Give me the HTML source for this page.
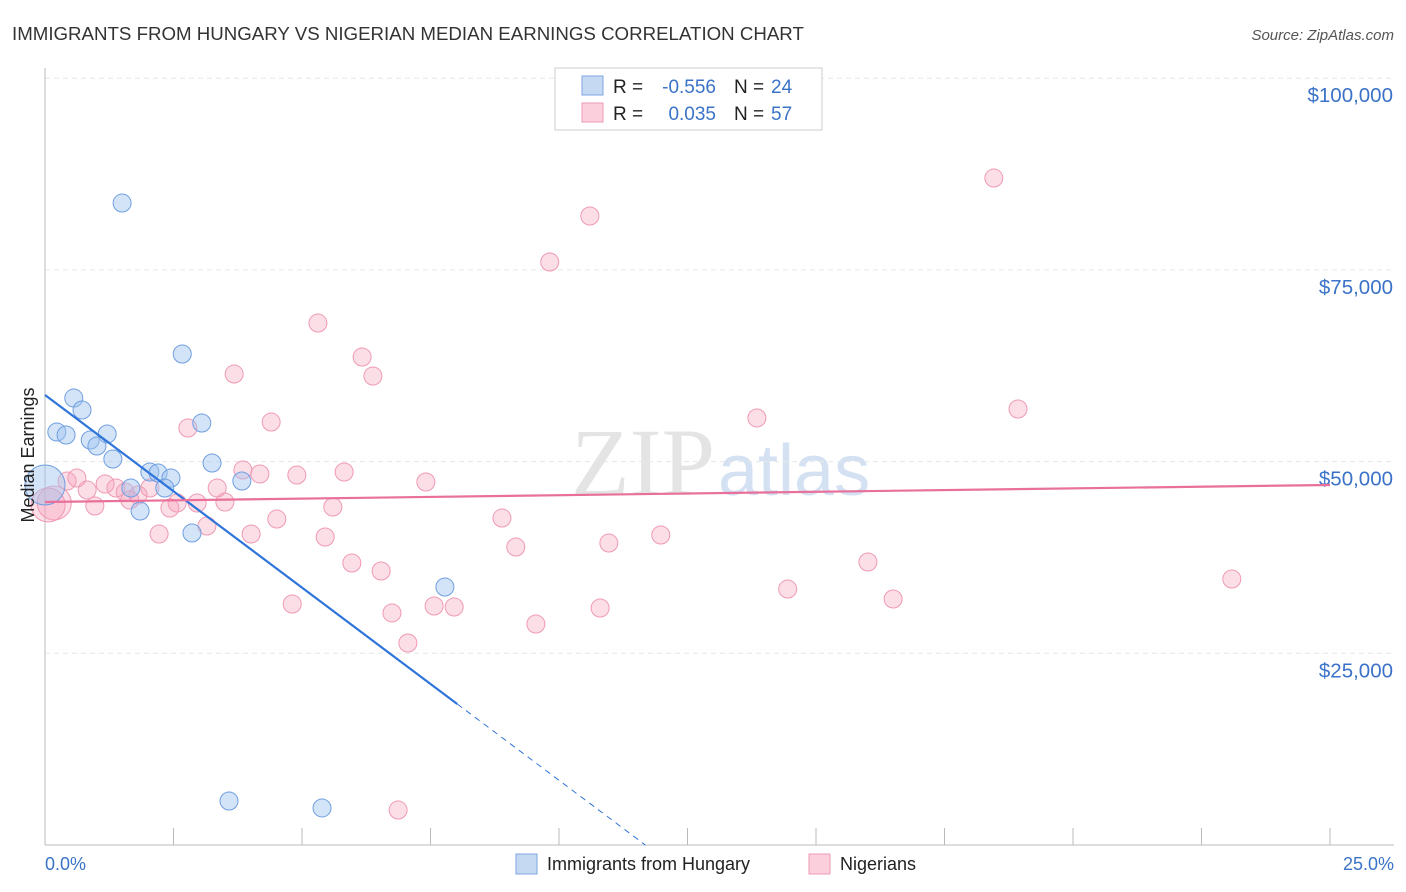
<!DOCTYPE html>
<html><head><meta charset="utf-8"><style>
body{margin:0;background:#fff;font-family:"Liberation Sans",sans-serif;}
svg{display:block}
</style></head><body>
<svg id="c" width="1406" height="892">
<text x="12" y="40" font-size="18.7" fill="#333">IMMIGRANTS FROM HUNGARY VS NIGERIAN MEDIAN EARNINGS CORRELATION CHART</text>
<text x="1394" y="40" font-size="15" fill="#555" font-style="italic" text-anchor="end">Source: ZipAtlas.com</text>
<text x="715" y="495" font-size="96" fill="#e4e4e4" font-family="Liberation Serif,serif" text-anchor="end">ZIP</text>
<text x="718" y="495" font-size="72" fill="#d3e1f3" text-anchor="start">atlas</text>
<g id="grid"></g><g id="pts"></g><g id="lines"></g>
<text transform="translate(34,455) rotate(-90)" font-size="18" fill="#222" text-anchor="middle">Median Earnings</text>
<text x="45" y="870" font-size="18" fill="#3b73c8">0.0%</text>
<text x="1394" y="870" font-size="18" fill="#3b73c8" text-anchor="end">25.0%</text>
<g>
<rect x="555" y="68" width="267" height="62" fill="#fff" stroke="#ccc"/>
<rect x="582" y="76" width="21" height="19" fill="#c5d9f3" stroke="#7da6e0"/>
<rect x="582" y="103" width="21" height="19" fill="#fbd0dc" stroke="#ef9ab3"/>
<text x="613" y="93" font-size="19" fill="#222">R =</text>
<text x="716" y="93" font-size="19" fill="#3b73c8" text-anchor="end">-0.556</text>
<text x="734" y="93" font-size="19" fill="#222">N =</text>
<text x="771" y="93" font-size="19" fill="#3b73c8">24</text>
<text x="613" y="120" font-size="19" fill="#222">R =</text>
<text x="716" y="120" font-size="19" fill="#3b73c8" text-anchor="end">0.035</text>
<text x="734" y="120" font-size="19" fill="#222">N =</text>
<text x="771" y="120" font-size="19" fill="#3b73c8">57</text>
</g>
<g>
<rect x="516" y="854" width="21" height="20" fill="#c5d9f3" stroke="#7da6e0"/>
<text x="547" y="870" font-size="18" fill="#222">Immigrants from Hungary</text>
<rect x="809" y="854" width="21" height="20" fill="#fbd0dc" stroke="#ef9ab3"/>
<text x="840" y="870" font-size="18" fill="#222">Nigerians</text>
</g>
</svg>
<script>
const yTicks=[25000,50000,75000,100000];
const yTickLabels=["$25,000","$50,000","$75,000","$100,000"];
const blueX=[1.50,2.67,0.56,0.72,0.23,0.41,1.21,0.88,1.01,3.05,1.32,3.25,2.04,2.20,2.45,3.83,1.67,2.33,1.85,2.86,7.78,3.58,5.39,0.0];
const blueY=[83720,64030,58290,56730,53860,53470,53600,52820,52030,55030,50340,49820,48640,48510,47860,47470,46560,46560,43560,40690,33650,5740,4830,46950];
const blueR=[9,9,9,9,9,9,9,9,9,9,9,9,9,9,9,9,9,9,9,9,9,9,9,20];
const pinkX=[18.46,10.60,9.82,5.31,6.17,3.68,6.38,18.93,13.85,4.40,2.78,3.85,4.18,4.90,5.82,7.41,0.43,0.62,1.17,0.82,1.38,1.56,2.04,2.57,2.96,3.35,3.50,0.97,2.43,5.60,8.89,4.51,3.15,2.22,4.01,5.45,11.98,10.97,9.16,5.97,16.01,6.54,23.09,14.45,16.50,4.81,6.75,7.57,7.96,10.80,9.55,7.06,6.87,0.18,0.06,1.81,1.65];
const pinkY=[86980,82030,76030,68070,63640,61420,61160,56860,55690,55160,54380,48900,48380,48250,48640,47340,47470,47860,47080,46300,46560,46030,46560,44600,44600,46560,44730,44210,43950,44080,42640,42510,41600,40560,40560,40170,40430,39380,38860,36780,36910,35730,34690,33380,32080,31430,30260,31170,31040,30910,28820,26340,4560,44600,44340,45640,44990];
const blueTrend=[58690,-5025];
const pinkTrend=[44730,88.8];
const X=v=>45+v/25*1285, Y=v=>845-v/25000*191.7;
const NS="http://www.w3.org/2000/svg";
function mk(t,a,p){const e=document.createElementNS(NS,t);for(const k in a)e.setAttribute(k,a[k]);p.appendChild(e);return e;}
const g=document.getElementById('grid');
yTicks.forEach((t,i)=>{
 const l=mk('line',{x1:45,x2:1394,y1:Y(t),y2:Y(t),stroke:'#e6e6e6','stroke-dasharray':'5,4'},g);
 
 
 const tx=mk('text',{x:1393,y:Y(t)+24,'font-size':20.5,fill:'#3b73c8','text-anchor':'end'},g);
 tx.textContent=yTickLabels[i];
 
 
});
const ax=mk('line',{x1:45,x2:45,y1:68,y2:845,stroke:'#bbb'},g);


const bx=mk('line',{x1:45,x2:1394,y1:845,y2:845,stroke:'#bbb'},g);


for(let i=0;i<=10;i++){const t=mk('line',{x1:X(i*2.5),x2:X(i*2.5),y1:828,y2:845,stroke:'#bbb'},g);
 
 }
const p=document.getElementById('pts');
pinkX.forEach((v,i)=>{const c=mk('circle',{cx:X(v),cy:Y(pinkY[i]),r:i>=53&&i<=54?17:9,fill:'rgba(246,160,185,0.35)',stroke:'#ef9ab3','stroke-width':1},p);
 
 });
blueX.forEach((v,i)=>{const c=mk('circle',{cx:X(v),cy:Y(blueY[i]),r:blueR[i],fill:'rgba(160,195,240,0.45)',stroke:'#6f9fe0','stroke-width':1},p);
 
 });
const L=document.getElementById('lines');
const bEnd=8.02, bZero=-blueTrend[0]/blueTrend[1];
const b1=mk('line',{x1:X(0),y1:Y(blueTrend[0]),x2:X(bEnd),y2:Y(blueTrend[0]+blueTrend[1]*bEnd),stroke:'#2f74d8','stroke-width':2.2},L);


const b2=mk('line',{x1:X(bEnd),y1:Y(blueTrend[0]+blueTrend[1]*bEnd),x2:X(bZero),y2:Y(0),stroke:'#2f74d8','stroke-width':1,'stroke-dasharray':'6,5'},L);


const pl=mk('line',{x1:X(0),y1:Y(pinkTrend[0]),x2:X(25),y2:Y(pinkTrend[0]+pinkTrend[1]*25),stroke:'#e8709a','stroke-width':2.2},L);


</script>
</body></html>
